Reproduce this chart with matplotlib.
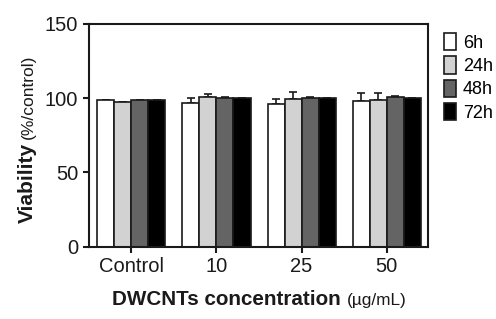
import matplotlib
matplotlib.use("Agg")
import matplotlib.pyplot as plt
import numpy as np

plt.rcParams['font.family'] = ['Liberation Sans', 'DejaVu Sans']

categories = ["Control", "10", "25", "50"]
series = ["6h", "24h", "48h", "72h"]
values = {
    "6h":  [98.5, 96.6, 96.0, 98.0],
    "24h": [97.3, 100.5, 99.5, 99.0],
    "48h": [99.0, 100.3, 100.3, 100.5],
    "72h": [98.6, 100.0, 100.0, 100.0],
}
errors = {
    "6h":  [0.0, 3.5, 3.5, 5.5],
    "24h": [0.0, 2.5, 4.8, 4.5],
    "48h": [0.0, 0.5, 0.5, 1.0],
    "72h": [0.0, 0.3, 0.3, 0.3],
}
colors = {"6h": "#ffffff", "24h": "#d2d2d2", "48h": "#646464", "72h": "#000000"}
ink = "#1a1a1a"

fig = plt.figure(figsize=(4.96, 3.19), dpi=100)
ax = fig.add_axes([0.179, 0.226, 0.683, 0.700])

x = np.arange(len(categories))
w = 0.2
for i, s in enumerate(series):
    pos = x + (i - 1.5) * w
    v = np.array(values[s])
    e = np.array(errors[s])
    ax.bar(pos, v, width=w, color=colors[s], edgecolor=ink, linewidth=1.2,
           label=s, zorder=2)
    ax.errorbar(pos, v, yerr=[np.zeros_like(e), e], fmt="none", ecolor=ink,
                elinewidth=1.2, capsize=3, capthick=1.2, zorder=1)

ax.set_xlim(-0.5, 3.48)
ax.set_ylim(0, 150)
ax.set_yticks([0, 50, 100, 150])
ax.set_xticks(x)
ax.set_xticklabels(categories)
for sp in ax.spines.values():
    sp.set_linewidth(1.5)
    sp.set_color(ink)
ax.tick_params(axis="both", labelsize=14.5, width=1.5, length=4.5, color=ink,
               labelcolor=ink, pad=3)

leg = ax.legend(loc="upper left", bbox_to_anchor=(0.985, 1.055), frameon=False,
                fontsize=13, handlelength=0.65, handleheight=1.1,
                handletextpad=0.4, labelspacing=0.25, borderaxespad=0.8)

fig.canvas.draw()
r = fig.canvas.get_renderer()

# y label (bold part + regular part on one baseline)
yb = 0.066
t1 = fig.text(yb, 0.302, "Viability", rotation=90, fontsize=15, fontweight="bold",
              ha="left", va="baseline", rotation_mode="anchor", color=ink)
bb = t1.get_window_extent(r)
ytop = bb.y1 / fig.bbox.height
fig.text(yb, ytop + 0.01, "(%/control)", rotation=90, fontsize=12.5,
         ha="left", va="baseline", rotation_mode="anchor", color=ink)

# x label
xb = 0.045
t2 = fig.text(0.226, xb, "DWCNTs concentration", fontsize=14.9, fontweight="bold",
              ha="left", va="baseline", color=ink)
bb2 = t2.get_window_extent(r)
fig.text(bb2.x1 / fig.bbox.width + 0.012, xb, "(\u00b5g/mL)", fontsize=12.4,
         ha="left", va="baseline", color=ink)

fig.savefig("out.png", dpi=100)
